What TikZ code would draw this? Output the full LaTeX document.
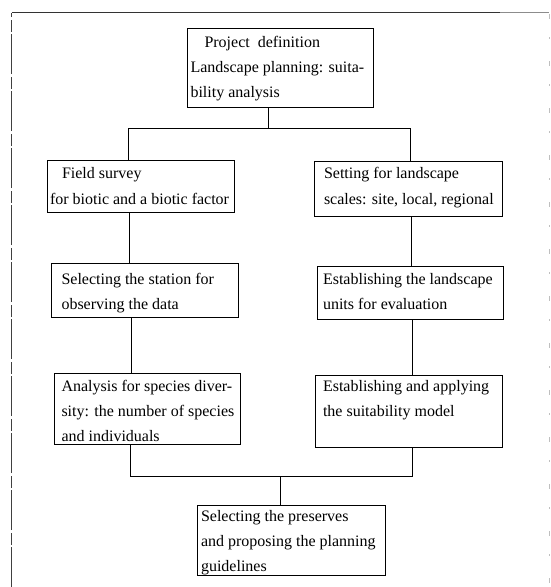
\documentclass[tikz,border=0pt]{standalone}
\usepackage{fontspec}
\setmainfont{Liberation Serif}
\begin{document}
\begin{tikzpicture}[x=1pt,y=-1pt,
  boxstyle/.style={draw=black, line width=0.8pt, inner sep=0pt, outer sep=0pt, anchor=north west},
  txt/.style={anchor=north west, inner sep=0pt, outer sep=0pt, align=left, font=\fontsize{16}{25}\selectfont},
  txtw/.style={anchor=north west, inner sep=0pt, outer sep=0pt, align=left, font=\fontsize{16}{26.5}\selectfont},
  conn/.style={draw=black, line width=0.8pt}]
\useasboundingbox (0,0) rectangle (551,587);
% outer frame
\draw[black!75, line width=0.9pt, dash pattern=on 40pt off 2pt on 12pt off 3pt] (11.6,587) -- (11.6,12.5);
\draw[black!80, line width=0.9pt] (11.6,12.5) -- (500,12.5);
\draw[black!45, line width=0.9pt] (500,12.5) -- (549,12.5);
\draw[black!25, line width=0.8pt, dash pattern=on 5pt off 18pt on 2pt off 22pt] (549,14) -- (549,587);
% boxes
\node[boxstyle, minimum width=186pt, minimum height=79pt] (top) at (187,28) {};
\node[boxstyle, minimum width=187pt, minimum height=52pt] (field) at (47,160) {};
\node[boxstyle, minimum width=187.5pt, minimum height=55pt] (setting) at (314.5,161) {};
\node[boxstyle, minimum width=187pt, minimum height=54pt] (station) at (51,263) {};
\node[boxstyle, minimum width=186pt, minimum height=53pt] (units) at (317,266) {};
\node[boxstyle, minimum width=186.2pt, minimum height=71pt] (analysis) at (54.5,373) {};
\node[boxstyle, minimum width=187.5pt, minimum height=72pt] (estapp) at (315,375) {};
\node[boxstyle, minimum width=187.5pt, minimum height=70pt] (final) at (197.5,505) {};
% texts
\node[txt] (ttop) at (190.5,30) {\strut\hspace*{14pt}Project\ \ definition\\\strut Landscape planning: suita-\\\strut bility analysis};
\node[txtw] (tfield) at (50,159.5) {\strut\hspace*{12pt}Field survey\\\strut for biotic and a biotic factor};
\node[txtw] (tsetting) at (324,159.5) {\strut Setting for landscape\\\strut scales: site, local, regional};
\node[txt] (tstation) at (61.5,267) {\strut Selecting the station for\\\strut observing the data};
\node[txt] (tunits) at (323,267) {\strut Establishing the landscape\\\strut units for evaluation};
\node[txt] (tanalysis) at (61.5,374) {\strut Analysis for species diver-\\\strut sity: the number of species\\\strut and individuals};
\node[txt] (testapp) at (323,374) {\strut Establishing and applying\\\strut the suitability model};
\node[txt] (tfinal) at (201,504) {\strut Selecting the preserves\\\strut and proposing the planning\\\strut guidelines};
% connector coordinates
\coordinate (jtop) at (268,128);
\coordinate (jl) at (128.5,128);
\coordinate (jr) at (410,128);
\coordinate (cl1) at (129,0);
\coordinate (cr1) at (411.5,0);
\coordinate (cl2) at (131,0);
\coordinate (cr2) at (412,0);
\coordinate (bl) at (130,476);
\coordinate (br) at (412,476);
\coordinate (bc) at (280,476);
% connectors
\draw[conn] (top.south -| jtop) -- (jtop);
\draw[conn] (field.north -| jl) -- (jl) -- (jr) -- (setting.north -| jr);
\draw[conn] (field.south -| cl1) -- (station.north -| cl1);
\draw[conn] (setting.south -| cr1) -- (units.north -| cr1);
\draw[conn] (station.south -| cl2) -- (analysis.north -| cl2);
\draw[conn] (units.south -| cr2) -- (estapp.north -| cr2);
\draw[conn] (analysis.south -| bl) -- (bl) -- (br) -- (estapp.south -| br);
\draw[conn] (bc) -- (final.north -| bc);
\end{tikzpicture}
\end{document}
